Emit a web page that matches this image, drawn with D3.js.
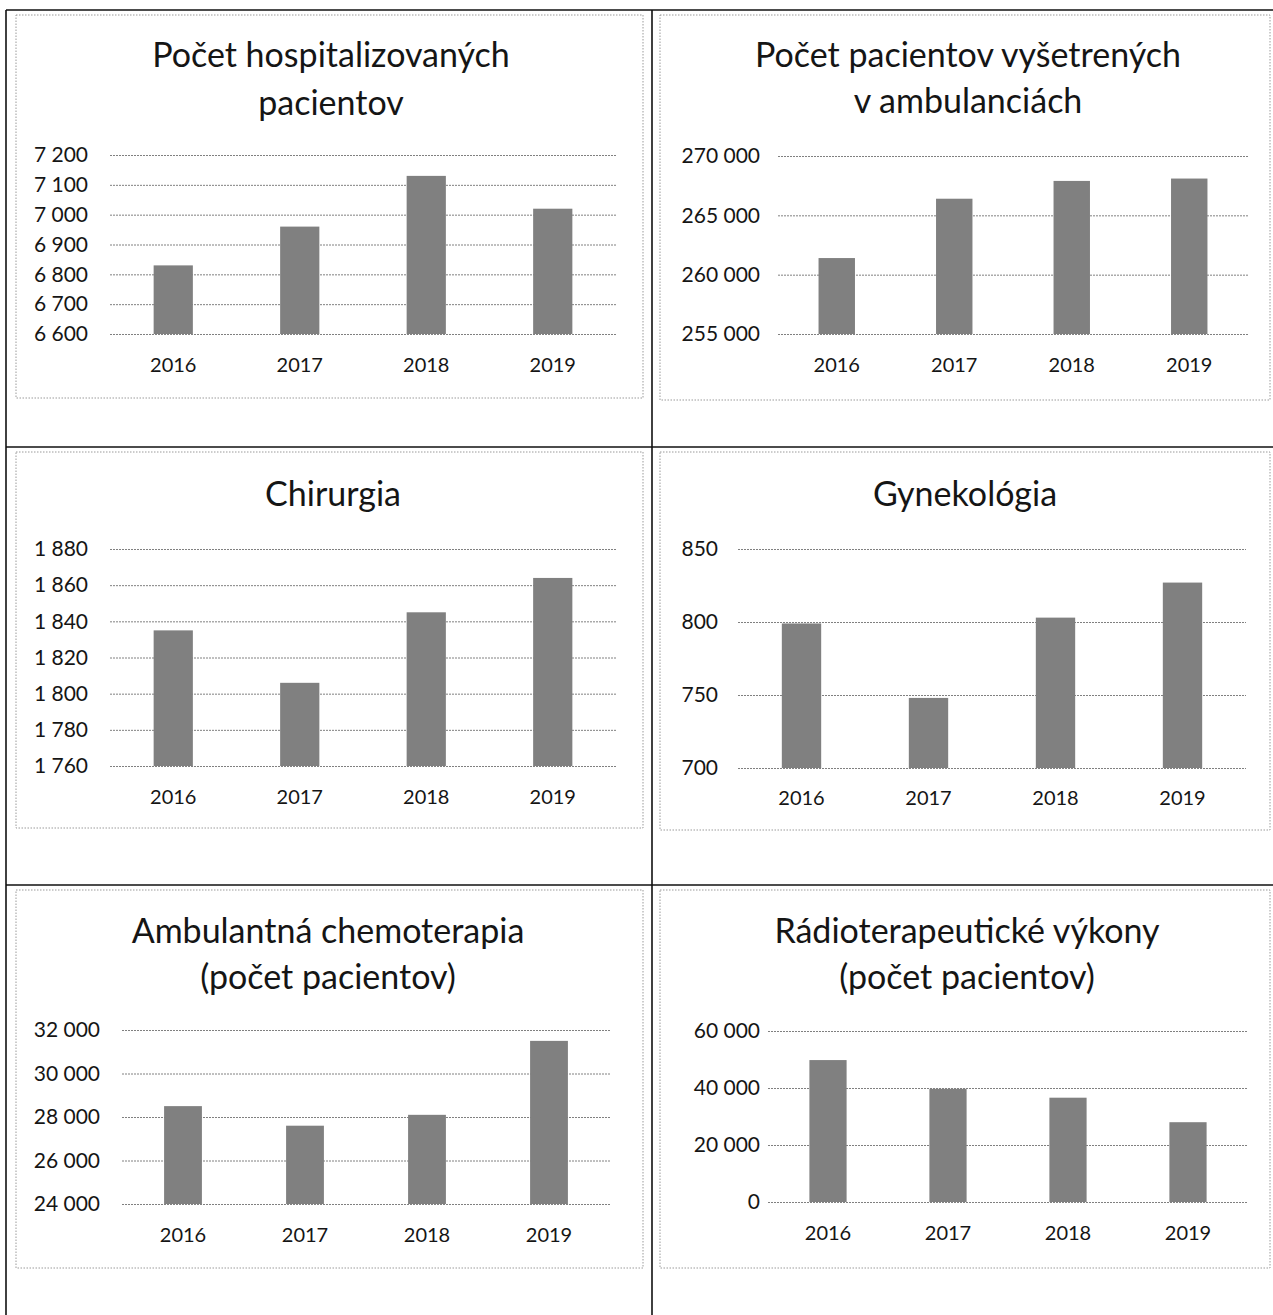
<!DOCTYPE html>
<html><head><meta charset="utf-8">
<script src="https://cdn.jsdelivr.net/npm/d3@7"></script>
<style>
html,body{margin:0;padding:0;background:#fff;}
svg{display:block;}
text{font-family:Lato,"Open Sans",sans-serif;fill:#151515;}
</style></head>
<body>
<svg id="c" width="1273" height="1315"></svg>
<script>
// ---- data ----
const years = ["2016", "2017", "2018", "2019"];

const hospTitle = ["Počet hospitalizovaných", "pacientov"];
const hospValues = [6830, 6960, 7130, 7020];
const hospTicks = [6600, 6700, 6800, 6900, 7000, 7100, 7200];

const ambTitle = ["Počet pacientov vyšetrených", "v ambulanciách"];
const ambValues = [261400, 266400, 267900, 268100];
const ambTicks = [255000, 260000, 265000, 270000];

const chirTitle = ["Chirurgia"];
const chirValues = [1835, 1806, 1845, 1864];
const chirTicks = [1760, 1780, 1800, 1820, 1840, 1860, 1880];

const gynTitle = ["Gynekológia"];
const gynValues = [799, 748, 803, 827];
const gynTicks = [700, 750, 800, 850];

const chemoTitle = ["Ambulantná chemoterapia", "(počet pacientov)"];
const chemoValues = [28500, 27600, 28100, 31500];
const chemoTicks = [24000, 26000, 28000, 30000, 32000];

const radioTitle = ["Rádioterapeutické výkony", "(počet pacientov)"];
const radioValues = [49800, 39700, 36600, 28000];
const radioTicks = [0, 20000, 40000, 60000];

// ---- layout ----
const panels = [
  {title: hospTitle, values: hospValues, ticks: hospTicks, px: [110, 616], py: [155, 334], lx: 88, yy: 365, tcx: 331, ty: [55, 103], box: [16, 15, 643, 398]},
  {title: ambTitle, values: ambValues, ticks: ambTicks, px: [778, 1248], py: [156, 334], lx: 760, yy: 365, tcx: 968, ty: [55, 101], box: [660, 15, 1270, 400]},
  {title: chirTitle, values: chirValues, ticks: chirTicks, px: [110, 616], py: [549, 766], lx: 88, yy: 797, tcx: 333, ty: [494], box: [16, 452, 643, 828]},
  {title: gynTitle, values: gynValues, ticks: gynTicks, px: [738, 1246], py: [549, 768], lx: 718, yy: 798, tcx: 965, ty: [494], box: [660, 452, 1270, 830]},
  {title: chemoTitle, values: chemoValues, ticks: chemoTicks, px: [122, 610], py: [1030, 1204], lx: 100, yy: 1235, tcx: 328, ty: [931, 977], box: [16, 890, 643, 1268]},
  {title: radioTitle, values: radioValues, ticks: radioTicks, px: [768, 1248], py: [1031, 1202], lx: 760, yy: 1233, tcx: 967, ty: [931, 977], box: [660, 890, 1270, 1268]}
];

const loc = d3.formatLocale({decimal: ",", thousands: "\u00a0", grouping: [3], currency: ["", ""]});
const fmt = loc.format(",");

const svg = d3.select("#c");

// chart area boxes (dotted)
panels.forEach(p => {
  svg.append("rect")
    .attr("x", p.box[0]).attr("y", p.box[1])
    .attr("width", p.box[2] - p.box[0]).attr("height", p.box[3] - p.box[1])
    .attr("fill", "none").attr("stroke", "#9a9a9a").attr("stroke-width", 1)
    .attr("stroke-dasharray", "1.5,1.5");
});

// table lines
const tbl = svg.append("g").attr("stroke", "#111").attr("stroke-width", 1.6);
tbl.append("line").attr("x1", 6).attr("x2", 1273).attr("y1", 10).attr("y2", 10);
tbl.append("line").attr("x1", 6).attr("x2", 1273).attr("y1", 447).attr("y2", 447);
tbl.append("line").attr("x1", 6).attr("x2", 1273).attr("y1", 885).attr("y2", 885);
tbl.append("line").attr("x1", 6).attr("x2", 6).attr("y1", 10).attr("y2", 1315);
tbl.append("line").attr("x1", 652).attr("x2", 652).attr("y1", 10).attr("y2", 1315);

panels.forEach(p => {
  const g = svg.append("g");
  const x = d3.scaleBand().domain(years).range(p.px).paddingInner(0.69).paddingOuter(0.345);
  const y = d3.scaleLinear().domain([p.ticks[0], p.ticks[p.ticks.length - 1]]).range([p.py[1], p.py[0]]);

  // gridlines
  const ya = d3.axisLeft(y).tickValues(p.ticks).tickSize(-(p.px[1] - p.px[0])).tickFormat("");
  const gg = g.append("g").attr("transform", `translate(${p.px[0]},0)`).call(ya);
  gg.select(".domain").remove();
  gg.selectAll(".tick line").attr("stroke", "#808080").attr("stroke-width", 1).attr("stroke-dasharray", "2,1");

  // y labels
  const yl = d3.axisLeft(y).tickValues(p.ticks).tickSize(0).tickPadding(0).tickFormat(fmt);
  const gl = g.append("g").attr("transform", `translate(${p.lx},0)`).call(yl);
  gl.select(".domain").remove();
  gl.selectAll(".tick text").attr("font-size", 21).attr("font-family", "Lato,sans-serif").attr("fill", "#151515");

  // bars
  g.selectAll("rect.bar").data(p.values).enter().append("rect")
    .attr("class", "bar")
    .attr("x", (d, i) => x(years[i]))
    .attr("width", x.bandwidth())
    .attr("y", d => y(d))
    .attr("height", d => y(p.ticks[0]) - y(d))
    .attr("fill", "#808080");

  // x labels
  const xa = d3.axisBottom(x).tickSize(0).tickPadding(0);
  const gx = g.append("g").attr("transform", `translate(0,${p.yy})`).call(xa);
  gx.select(".domain").remove();
  gx.selectAll(".tick text").attr("font-size", 20).attr("font-family", "Lato,sans-serif").attr("fill", "#151515").attr("dy", "0.35em");

  // title
  p.title.forEach((t, i) => {
    g.append("text").attr("x", p.tcx).attr("y", p.ty[i]).attr("dy", "0.35em")
      .attr("text-anchor", "middle").attr("font-size", 34).text(t);
  });
});
</script>
</body></html>
